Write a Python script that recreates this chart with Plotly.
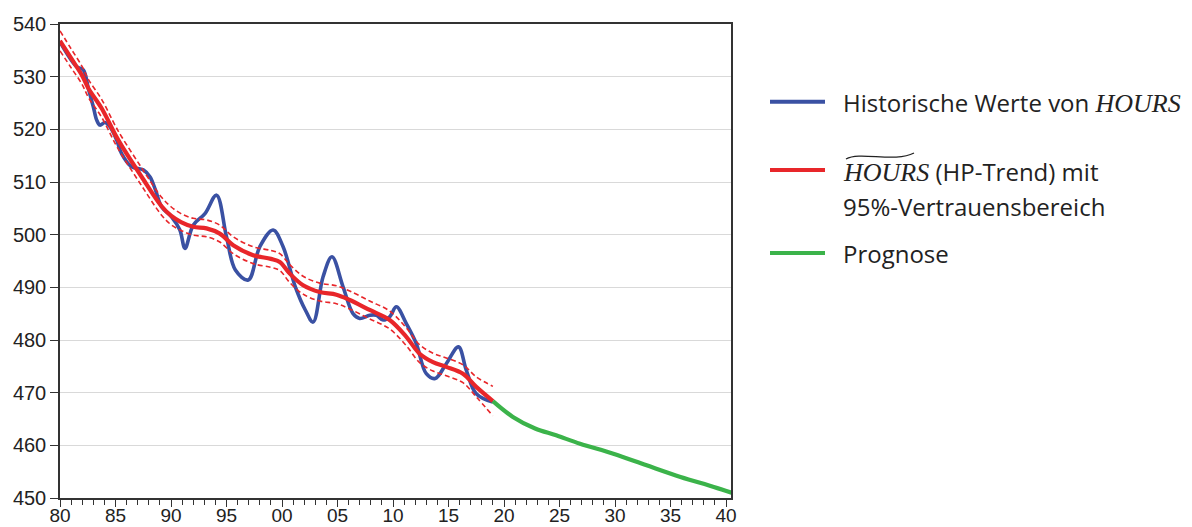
import plotly.graph_objects as go

# ---- data -------------------------------------------------------------
# historical quarterly hours (smoothed reading), time in decimal years
hist_t = [1980.0, 1981.5, 1982.1, 1982.55, 1983.0, 1983.3, 1983.6, 1984.05, 1984.5,
          1985.1, 1985.55, 1986.45, 1987.5, 1988.1, 1988.6, 1989.15, 1990.05, 1990.8,
          1991.26, 1992.0, 1993.06, 1994.1, 1995.0, 1995.8, 1996.96, 1998.0, 1999.2,
          2000.1, 2001.2, 2002.1, 2002.8, 2003.7, 2004.5, 2005.5, 2006.4, 2007.0,
          2007.9, 2008.5, 2009.1, 2009.7, 2010.3, 2011.2, 2012.1, 2013.0, 2013.8,
          2014.8, 2015.9, 2016.6, 2017.5, 2019.0]
hist_v = [536.6, 531.9, 531.3, 527.8, 524.3, 521.8, 520.8, 521.3, 520.5,
          518.0, 515.4, 512.9, 512.3, 511.0, 508.5, 505.3, 503.4, 500.9,
          497.4, 501.8, 504.0, 507.5, 499.6, 493.3, 491.4, 497.7, 500.9,
          497.7, 490.1, 485.7, 483.4, 492.0, 495.8, 490.1, 485.0, 484.1,
          484.7, 484.7, 483.8, 484.4, 486.3, 483.1, 479.3, 473.6, 472.7,
          475.5, 478.7, 474.3, 469.8, 468.2]

# HP trend and half-width of its 95% band
trend_t = [1980.0, 1981.0, 1982.0, 1982.55, 1983.75, 1985.0, 1985.55, 1987.35, 1989.15,
           1990.0, 1990.9, 1992.0, 1993.2, 1994.4, 1995.6, 1997.4, 1999.0, 1999.8,
           2000.7, 2001.9, 2003.4, 2004.9, 2006.1, 2007.9, 2009.7, 2011.2, 2012.4,
           2013.6, 2014.8, 2016.3, 2017.5, 2019.0]
trend_v = [536.8, 533.5, 530.2, 527.8, 524.0, 518.9, 516.9, 511.0, 505.4,
           503.6, 502.4, 501.5, 501.2, 500.2, 498.0, 496.1, 495.4, 494.8,
           492.6, 490.4, 489.1, 488.6, 487.6, 485.7, 483.8, 480.6, 477.4,
           475.8, 474.9, 473.6, 471.1, 468.4]
band_half = [1.9, 1.8, 1.7, 1.7, 1.7, 1.7, 1.7, 1.7, 1.7,
             1.7, 1.6, 1.6, 1.6, 1.6, 1.6, 1.6, 1.6, 1.6,
             1.7, 1.7, 1.7, 1.7, 1.7, 1.7, 1.7, 1.7, 1.7,
             1.7, 1.7, 1.7, 1.9, 2.8]

# forecast
fc_t = [2019.0, 2020.8, 2022.8, 2024.7, 2026.85, 2029.85, 2032.85, 2035.9, 2038.9, 2040.5]
fc_v = [468.4, 465.4, 463.2, 461.9, 460.3, 458.4, 456.2, 454.0, 452.1, 451.0]

major_years = list(range(1980, 2041, 5))
major_labels = ["80", "85", "90", "95", "00", "05", "10", "15", "20", "25", "30", "35", "40"]
grid_years = list(range(1990, 2041, 10))
minor_years = list(range(1980, 2041))
y_ticks = list(range(450, 541, 10))

SERIF = "font-family:'Liberation Serif';font-size:26px"
# one entry per legend row; rows of the same entry share a colour sample
legend_rows = [
    f"Historische Werte von <i><span style=\"{SERIF}\">HOURS</span></i>",
    f"<i><span style=\"{SERIF}\">HOURS</span></i> (HP-Trend) mit",
    "95%-Vertrauensbereich",
    "Prognose",
]

BLUE = "#3a51a3"
RED = "#e8262a"
GREEN = "#3bb34a"

# ---- layout geometry (pixels) ----------------------------------------
W, H = 1192, 527
L, R, T, B = 60, 461, 24, 29
pw, ph = W - L - R, H - T - B


def px(x):
    return (x - L) / pw


def py(y):
    return (H - B - y) / ph


fig = go.Figure()

upper = [v + h for v, h in zip(trend_v, band_half)]
lower = [v - h for v, h in zip(trend_v, band_half)]

common = dict(xaxis="x2", yaxis="y", mode="lines", showlegend=False, hoverinfo="skip")
fig.add_trace(go.Scatter(x=hist_t, y=hist_v, line=dict(color=BLUE, width=3.6, shape="spline", smoothing=1.0), **common))
fig.add_trace(go.Scatter(x=trend_t, y=upper, line=dict(color=RED, width=1.6, dash="5px,3px", shape="spline"), **common))
fig.add_trace(go.Scatter(x=trend_t, y=lower, line=dict(color=RED, width=1.6, dash="5px,3px", shape="spline"), **common))
fig.add_trace(go.Scatter(x=trend_t, y=trend_v, line=dict(color=RED, width=4.2, shape="spline"), **common))
fig.add_trace(go.Scatter(x=fc_t, y=fc_v, line=dict(color=GREEN, width=4.2, shape="spline"), **common))

xr = [1980, 1980 + pw / 11.1]
tick_font = dict(family="Liberation Sans, Arial, sans-serif", size=20, color="#222")
xtick_font = dict(family="Liberation Sans, Arial, sans-serif", size=19, color="#222")

fig.update_layout(
    width=W, height=H,
    margin=dict(l=L, r=R, t=T, b=B, autoexpand=False),
    paper_bgcolor="white", plot_bgcolor="white",
    xaxis=dict(range=xr, tickmode="array", tickvals=grid_years, showticklabels=False,
               ticks="", showgrid=True, gridcolor="#d9d9d9", gridwidth=1.3,
               showline=False, zeroline=False, fixedrange=True, automargin=False),
    xaxis2=dict(range=xr, overlaying="x", anchor="y", side="bottom",
                tickmode="array", tickvals=major_years, ticktext=major_labels,
                ticks="outside", ticklen=7, tickwidth=1.2, tickcolor="#333",
                ticklabelstandoff=-8,
                minor=dict(tickmode="array", tickvals=minor_years, ticks="outside",
                           ticklen=5, tickwidth=1, tickcolor="#333", showgrid=False),
                showgrid=False, zeroline=False,
                showline=True, linecolor="#333", linewidth=1.5, mirror=True,
                tickfont=xtick_font, fixedrange=True, automargin=False),
    yaxis=dict(range=[450, 540], tickmode="array", tickvals=y_ticks,
               ticks="outside", ticklen=8, tickwidth=1.2, tickcolor="#333",
               showgrid=True, gridcolor="#d9d9d9", gridwidth=1.3, zeroline=False,
               showline=True, linecolor="#333", linewidth=1.5, mirror=True,
               tickfont=tick_font, fixedrange=True, automargin=False),
)

# legend: colour samples and labels to the right of the plot
sample_y = [101.7, 170, 253]
sample_colors = [BLUE, RED, GREEN]
for yy, col in zip(sample_y, sample_colors):
    fig.add_shape(type="line", xref="paper", yref="paper",
                  x0=px(770), x1=px(825), y0=py(yy), y1=py(yy),
                  line=dict(color=col, width=4))

row_y = [101.7, 170, 205, 253]
for yy, lab in zip(row_y, legend_rows):
    fig.add_annotation(xref="paper", yref="paper", x=px(841), y=py(yy + 1),
                       xanchor="left", yanchor="middle", align="left",
                       text=lab, showarrow=False,
                       font=dict(family="Open Sans, sans-serif", size=24, color="#222"))

# wide tilde over the trend symbol in the legend
x0, x1 = 846, 914
fig.add_shape(type="path", xref="paper", yref="paper",
              path=f"M {px(x0)},{py(159)} C {px(860)},{py(151)} {px(895)},{py(163)} {px(x1)},{py(153)}",
              line=dict(color="#222", width=1.3))

fig.write_html("out.html")
